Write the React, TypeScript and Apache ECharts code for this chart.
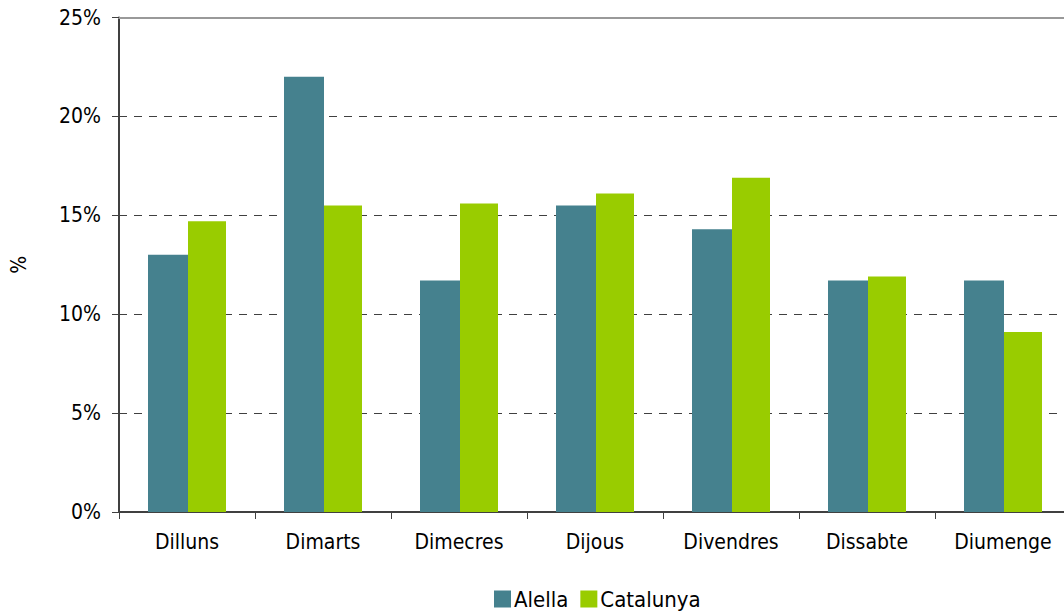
import React, { useEffect, useRef } from "react";
import * as echarts from "echarts";

// Share of the week's total, per day, Alella vs Catalunya (%)
const days = ["Dilluns", "Dimarts", "Dimecres", "Dijous", "Divendres", "Dissabte", "Diumenge"];
const alella = [13.0, 22.0, 11.7, 15.5, 14.3, 11.7, 11.7];
const catalunya = [14.7, 15.5, 15.6, 16.1, 16.9, 11.9, 9.1];
const yTicks = [0, 5, 10, 15, 20, 25];

const FONT = "'DejaVu Sans Condensed', 'DejaVu Sans', sans-serif";
const CHART_W = 1100;
const CHART_H = 615;

export default function App() {
  const ref = useRef<HTMLDivElement>(null);

  useEffect(() => {
    if (!ref.current) return;
    const chart = echarts.init(ref.current, null, { renderer: "svg" });
    chart.setOption({
      animation: false,
      textStyle: { fontFamily: FONT },
      grid: { left: 117, top: 17.5, bottom: 103, right: CHART_W - 1071 },
      legend: {
        left: 494,
        top: 588,
        padding: 0,
        itemWidth: 17,
        itemHeight: 17,
        itemGap: 12,
        icon: "rect",
        textStyle: { fontFamily: FONT, fontSize: 22, color: "#000", padding: [0, 0, 0, -2] },
        data: ["Alella", "Catalunya"],
      },
      xAxis: [
        {
          type: "category",
          data: days,
          axisLine: { lineStyle: { color: "#404040", width: 2 } },
          axisTick: { show: true, length: 7, lineStyle: { color: "#404040", width: 1 } },
          axisLabel: { color: "#000", fontSize: 21, fontFamily: FONT, margin: 19 },
        },
        {
          type: "category",
          position: "top",
          data: days,
          axisLine: { show: true, lineStyle: { color: "#999", width: 2 } },
          axisTick: { show: false },
          axisLabel: { show: false },
        },
      ],
      yAxis: {
        type: "value",
        min: yTicks[0],
        max: yTicks[yTicks.length - 1],
        interval: 5,
        name: "%",
        nameLocation: "middle",
        nameGap: 90,
        nameTextStyle: { color: "#000", fontSize: 21, fontFamily: FONT },
        axisLine: { show: true, lineStyle: { color: "#404040", width: 2 } },
        axisTick: { show: true, length: 7, lineStyle: { color: "#404040", width: 1 } },
        axisLabel: { color: "#000", fontSize: 21, fontFamily: FONT, margin: 18, formatter: "{value}%" },
        splitLine: { lineStyle: { color: "#404040", type: [8, 7], width: 1 } },
      },
      series: [
        {
          name: "Alella",
          type: "bar",
          data: alella,
          barWidth: 40,
          barGap: "0%",
          itemStyle: { color: "#45818E" },
        },
        {
          name: "Catalunya",
          type: "bar",
          data: catalunya,
          barWidth: 38,
          barGap: "0%",
          itemStyle: { color: "#99CC00" },
        },
      ],
    });
    return () => chart.dispose();
  }, []);

  return (
    <div
      style={{
        position: "fixed",
        left: 0,
        top: 0,
        width: 1064,
        height: 615,
        overflow: "hidden",
        background: "#fff",
      }}
    >
      <div ref={ref} style={{ width: CHART_W, height: CHART_H }} />
    </div>
  );
}
